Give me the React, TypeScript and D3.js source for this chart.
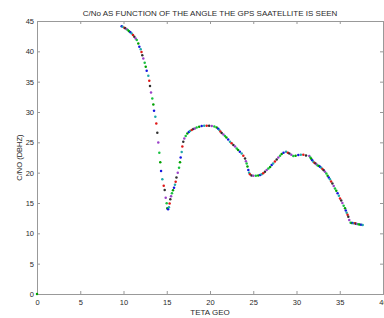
import React, { useEffect, useRef } from 'react'
import * as d3 from 'd3'

// elevation angle (deg) and C/No (dB-Hz)
const teta = [
  0,
  9.79, 9.9, 10.1, 10.2, 10.37, 10.5, 10.65, 10.8, 10.95, 11.1, 11.25, 11.4, 11.53, 11.71, 11.83, 11.99,
  12.08, 12.17, 12.29, 12.45, 12.57, 12.68, 12.87, 12.98, 13.06, 13.18, 13.33, 13.45, 13.53, 13.68,
  13.79, 13.91, 14.02, 14.14, 14.25, 14.34, 14.49, 14.65, 14.76, 14.88, 14.99, 15.06,
  15.15, 15.25, 15.33, 15.41, 15.5, 15.6, 15.72, 15.84, 15.95, 16.03, 16.12, 16.27, 16.42, 16.53,
  16.61, 16.73, 16.8, 16.91, 17.03, 17.19, 17.38, 17.55, 17.69, 17.88, 18.07, 18.25, 18.46, 18.75,
  19.04, 19.33, 19.62, 19.9, 20.2, 20.5, 20.77, 20.95, 21.08, 21.2, 21.35, 21.55, 21.73, 21.9,
  22.1, 22.31, 22.5, 22.7, 22.9, 23.09, 23.25, 23.45, 23.66, 23.85, 24.05, 24.15, 24.24, 24.33,
  24.43, 24.52, 24.62, 24.8, 25.01, 25.3, 25.58, 25.8, 25.97, 26.15, 26.35, 26.55, 26.75, 26.95,
  27.13, 27.3, 27.5, 27.71, 27.9, 28.1, 28.29, 28.5, 28.79, 29.0, 29.17, 29.4, 29.63, 29.9,
  30.21, 30.5, 30.79, 31.1, 31.48, 31.6, 31.7, 31.82, 31.94, 32.07, 32.2, 32.33, 32.45, 32.6, 32.72,
  32.86, 33.0, 33.15, 33.29, 33.45, 33.6, 33.73, 33.87, 34.0, 34.15, 34.3, 34.45, 34.6, 34.75, 34.9,
  35.03, 35.17, 35.3, 35.45, 35.61, 35.7, 35.8, 35.9, 35.99, 36.1, 36.26, 36.38, 36.5, 36.63, 36.76,
  36.88, 37.0, 37.15, 37.3, 37.48, 37.65,
]
const cno = [
  0,
  44.15, 44.05, 43.9, 43.8, 43.66, 43.5, 43.3, 43.15, 42.95, 42.7, 42.39, 42.1, 41.85, 41.3, 40.74, 40.36,
  39.9, 39.37, 38.83, 38.1, 37.45, 36.79, 35.96, 35.14, 34.27, 33.23, 32.24, 31.25, 30.2, 29.21,
  28.12, 26.57, 24.99, 23.28, 21.7, 20.26, 18.9, 17.84, 17.13, 15.86, 14.94, 14.12,
  13.95, 14.3, 14.9, 15.6, 16.1, 16.6, 17.1, 17.5, 18.0, 18.5, 19.2, 20.0, 20.8, 21.7,
  22.5, 23.4, 24.3, 25.1, 25.65, 26.03, 26.47, 26.7, 26.85, 27.02, 27.18, 27.3, 27.46, 27.58,
  27.68, 27.72, 27.73, 27.72, 27.68, 27.6, 27.46, 27.25, 27.05, 26.8, 26.55, 26.3, 26.03, 25.8,
  25.45, 25.1, 24.85, 24.55, 24.3, 24.0, 23.75, 23.45, 23.17, 22.8, 22.35, 21.9, 21.53, 21.0,
  20.43, 20.0, 19.72, 19.55, 19.49, 19.5, 19.55, 19.62, 19.72, 19.9, 20.15, 20.43, 20.7, 20.95,
  21.25, 21.5, 21.85, 22.19, 22.5, 22.8, 23.06, 23.3, 23.44, 23.3, 23.17, 22.95, 22.73, 22.8,
  22.9, 22.95, 22.95, 22.85, 22.73, 22.5, 22.3, 22.05, 21.8, 21.65, 21.5, 21.35, 21.2, 21.1, 20.98,
  20.8, 20.6, 20.4, 20.16, 19.85, 19.5, 19.2, 18.9, 18.55, 18.2, 17.8, 17.41, 17.0, 16.6, 16.2,
  15.76, 15.4, 15.0, 14.55, 14.12, 13.75, 13.4, 13.05, 12.74, 12.2, 11.75, 11.72, 11.7, 11.68, 11.65,
  11.6, 11.55, 11.5, 11.45, 11.4, 11.37,
]

const xTicks = [0, 5, 10, 15, 20, 25, 30, 35, 40]
const yTicks = [0, 5, 10, 15, 20, 25, 30, 35, 40, 45]
const dotColors = ['#00a000', '#1515e0', '#20a8a8', '#e01818', '#303030', '#9a40c8', '#18c040']

export default function App() {
  const svgRef = useRef(null)
  const width = 384
  const height = 318

  useEffect(() => {
    drawChart()
  }, [])

  const drawChart = () => {
    const margin = { top: 21, right: 1, bottom: 24, left: 37 }
    const axisColor = '#999'
    const textColor = '#2a2a2a'
    const font = '"Liberation Sans", Arial, sans-serif'

    const svg = d3.select(svgRef.current)
    svg.selectAll('*').remove()

    const xScale = d3.scaleLinear().domain([0, 40]).range([margin.left, width - margin.right])
    const yScale = d3.scaleLinear().domain([0, 45]).range([height - margin.bottom, margin.top])

    const styleAxis = (g, labels) => {
      g.select('.domain').remove()
      g.selectAll('line').attr('stroke', axisColor)
      g.selectAll('text').attr('fill', textColor).style('font-family', font).style('font-size', '7.5px')
      if (!labels) g.selectAll('text').remove()
    }

    //bottom and top axes, ticks pointing inward
    svg.append('g').attr('transform', `translate(0,${yScale(0)})`)
      .call(d3.axisBottom(xScale).tickValues(xTicks).tickSize(-3).tickPadding(5.5))
      .call(g => styleAxis(g, true))
    svg.append('g').attr('transform', `translate(0,${yScale(45)})`)
      .call(d3.axisTop(xScale).tickValues(xTicks).tickSize(-3))
      .call(g => styleAxis(g, false))

    //left and right axes
    svg.append('g').attr('transform', `translate(${xScale(0)},0)`)
      .call(d3.axisLeft(yScale).tickValues(yTicks).tickSize(-3).tickPadding(3))
      .call(g => styleAxis(g, true))
    svg.append('g').attr('transform', `translate(${xScale(40)},0)`)
      .call(d3.axisRight(yScale).tickValues(yTicks).tickSize(-3))
      .call(g => styleAxis(g, false))

    //box
    svg.append('rect')
      .attr('x', xScale(0) + 0.5).attr('y', yScale(45) + 0.5)
      .attr('width', xScale(40) - xScale(0)).attr('height', yScale(0) - yScale(45))
      .attr('fill', 'none').attr('stroke', axisColor)

    //points
    svg.append('g').selectAll('circle').data(teta).join('circle')
      .attr('cx', d => xScale(d))
      .attr('cy', (d, i) => yScale(cno[i]))
      .attr('r', 1.25)
      .attr('fill', (d, i) => dotColors[i % dotColors.length])

    //labels
    svg.append('text').attr('x', (xScale(0) + xScale(40)) / 2).attr('y', 16)
      .attr('text-anchor', 'middle').attr('fill', textColor)
      .style('font-family', font).style('font-size', '8px')
      .text('C/No AS FUNCTION OF THE ANGLE THE GPS SAATELLITE IS SEEN')
    svg.append('text').attr('x', (xScale(0) + xScale(40)) / 2).attr('y', 315)
      .attr('text-anchor', 'middle').attr('fill', textColor)
      .style('font-family', font).style('font-size', '8px')
      .text('TETA GEO')
    svg.append('text')
      .attr('transform', `translate(22,${(yScale(0) + yScale(45)) / 2}) rotate(-90)`)
      .attr('text-anchor', 'middle').attr('fill', textColor)
      .style('font-family', font).style('font-size', '7.5px')
      .text('C/NO (DBHZ)')
  }

  return (
    <div>
      <svg ref={svgRef} width={width} height={height}
        style={{ position: 'absolute', left: 0, top: 0, background: '#fff' }}></svg>
    </div>
  )
}
